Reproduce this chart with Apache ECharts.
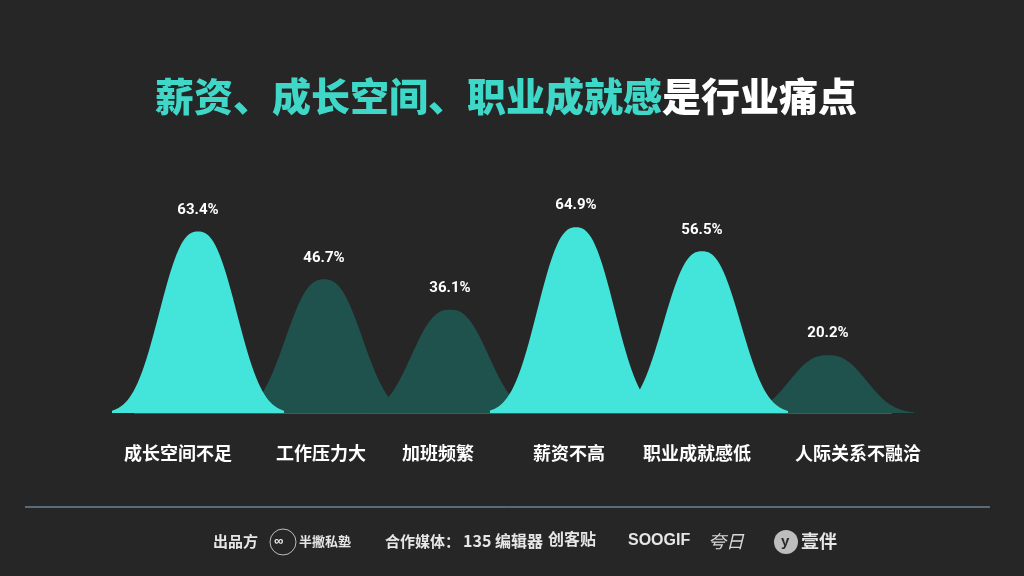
<!DOCTYPE html>
<html><head><meta charset="utf-8">
<script src="https://cdn.jsdelivr.net/npm/echarts@6/dist/echarts.min.js"></script>
<style>html,body{margin:0;padding:0;background:#262626;}#c{width:1024px;height:576px;}</style>
</head><body><div id="c"></div>
<script>
const categories = ['成长空间不足','工作压力大','加班频繁','薪资不高','职业成就感低','人际关系不融洽'];
const values = [63.4, 46.7, 36.1, 64.9, 56.5, 20.2];
const highlighted = [true, false, false, true, true, false];
const titleHighlight = '薪资、成长空间、职业成就感';
const titleRest = '是行业痛点';

const CYAN = '#43e4da', DARK = '#1f524c';
// bell-shaped symbol outline (shape only, not data)
function bellPath(){
  let d = 'path://M0,100';
  const N = 80, R = 1.8, P = 2.5;
  for (let k = 0; k <= N; k++){
    const u = -R + 2 * R * k / N;
    const y = 100 * (1 - Math.exp(-Math.pow(Math.abs(u), P)));
    d += ' L' + (100 * k / N).toFixed(2) + ',' + y.toFixed(2);
  }
  return d + ' L100,100 Z';
}
const bell = bellPath();
const labelShift = [-20, -3, -12, -7, -5, 30];
const cyanData = values.map((v,i)=> highlighted[i] ? v : null);
const darkData = values.map((v,i)=> highlighted[i] ? null : v);
const labelCfg = {show:true, position:'top', distance:14, color:'#fff', fontSize:15, fontWeight:'bold',
  fontFamily:'Liberation Sans Narrow, Roboto, sans-serif', formatter: p => p.value + '%'};

const chart = echarts.init(document.getElementById('c'));
chart.setOption({
  backgroundColor:'#262626',
  grid:{left:135, right:133, top:184, bottom:163},
  xAxis:{type:'category',
    data:categories.map((c,i)=>({value:c, textStyle:{padding: labelShift[i] < 0 ? [0,-2*labelShift[i],0,0] : [0,0,0,2*labelShift[i]]}})),
    axisLine:{show:true, lineStyle:{color:'#555', width:2}}, axisTick:{show:false},
    axisLabel:{color:'#fff', fontSize:18, fontWeight:'bold', margin:31, interval:0,
      fontFamily:'Noto Sans CJK SC, sans-serif'}},
  yAxis:{type:'value', min:0, max:80, show:false},
  title:{text:'{a|'+titleHighlight+'}{b|'+titleRest+'}', left:150, top:72,
    textStyle:{rich:{
      a:{color:'#3fd8c8', fontSize:39, fontWeight:900, fontFamily:'Noto Sans CJK SC, sans-serif'},
      b:{color:'#ffffff', fontSize:39, fontWeight:900, fontFamily:'Noto Sans CJK SC, sans-serif'}}}},
  series:[
    {type:'pictorialBar', name:'dark', data:darkData, symbol:bell, symbolSize:[172,'100%'],
      barCategoryGap:'0%', itemStyle:{color:DARK}, label:labelCfg, z:2},
    {type:'pictorialBar', name:'cyan', data:cyanData, symbol:bell, symbolSize:[172,'100%'],
      barGap:'-100%', barCategoryGap:'0%', itemStyle:{color:CYAN}, label:labelCfg, z:3}
  ],
  graphic:[
    {type:'line', shape:{x1:25,y1:507,x2:990,y2:507}, style:{stroke:'#8fb0c8', lineWidth:1}},
    {type:'text', left:213, top:534, style:{text:'出品方', fill:'#e6e6e6', font:'bold 15px "Noto Sans CJK SC"'}},
    {type:'circle', shape:{cx:283, cy:542, r:13}, style:{fill:'none', stroke:'#bbb', lineWidth:1}},
    {type:'text', left:274, top:535, style:{text:'∞', fill:'#eee', font:'bold 13px sans-serif'}},
    {type:'text', left:299, top:535, style:{text:'半撇私塾', fill:'#e6e6e6', font:'bold 13px "Noto Sans CJK SC"'}},
    {type:'text', left:385, top:534, style:{text:'合作媒体：', fill:'#e6e6e6', font:'bold 15px "Noto Sans CJK SC"'}},
    {type:'text', left:463, top:533, style:{text:'135 编辑器', fill:'#e6e6e6', font:'bold 16px "Noto Sans CJK SC"'}},
    {type:'text', left:548, top:531, style:{text:'创客贴', fill:'#e6e6e6', font:'bold 16px "Noto Sans CJK SC"'}},
    {type:'text', left:628, top:533, style:{text:'SOOGIF', fill:'#e6e6e6', font:'bold 16px "Liberation Sans Narrow", sans-serif'}},
    {type:'text', left:708, top:532, style:{text:'夸日', fill:'#d8d8d8', font:'italic 18px "Noto Sans CJK SC"'}},
    {type:'circle', shape:{cx:786, cy:542, r:12}, style:{fill:'#bdbdbd'}},
    {type:'text', left:781, top:534, style:{text:'y', fill:'#2a2a2a', font:'bold 15px sans-serif'}},
    {type:'text', left:801, top:532, style:{text:'壹伴', fill:'#e6e6e6', font:'bold 18px "Noto Sans CJK SC"'}}
  ]
});
</script></body></html>
